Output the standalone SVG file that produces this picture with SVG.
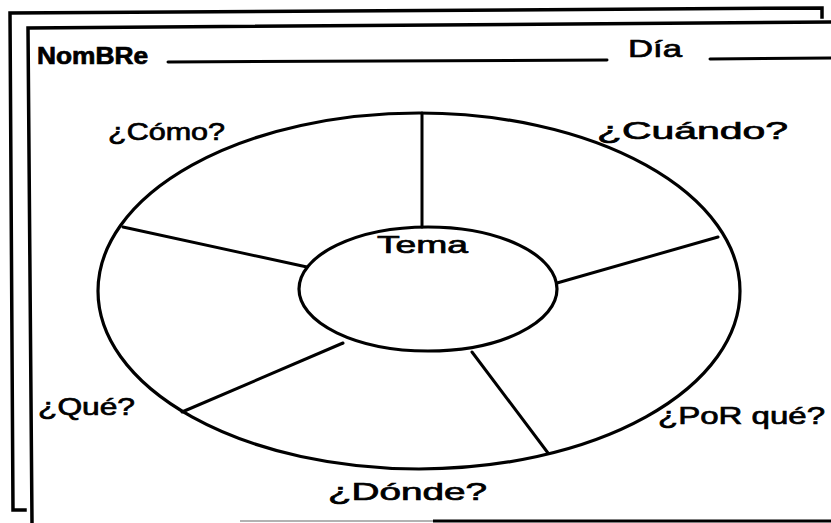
<svg xmlns="http://www.w3.org/2000/svg" width="831" height="523" viewBox="0 0 831 523">
<style>
.pg{fill:none;stroke:#000;stroke-width:3.5;stroke-linecap:square}
.ln{stroke:#000;stroke-width:3;fill:none;stroke-linecap:round}
.ov{fill:none;stroke:#000;stroke-width:3.2}
.t{font-family:"Liberation Sans",Arial,sans-serif;fill:#000;font-size:24px;stroke:#000;stroke-width:0.7}
</style>
<rect width="831" height="523" fill="#fff"/>
<g id="page">
<polyline class="pg" points="25,510 13,510 10,13 822,8 822,17"/>
<polyline class="pg" points="32,523 28,28 831,22"/>
<line x1="240" y1="521" x2="433" y2="521" stroke="#999" stroke-width="1.5"/>
<line x1="433" y1="521" x2="831" y2="521" stroke="#000" stroke-width="3"/>
</g>
<g id="header">
<text class="t" x="37" y="64" font-weight="bold" textLength="111" lengthAdjust="spacingAndGlyphs">NomBRe</text>
<line class="ln" x1="168" y1="62" x2="607" y2="60" stroke-width="2.5"/>
<text class="t" x="628" y="57" textLength="54" lengthAdjust="spacingAndGlyphs">Día</text>
<line class="ln" x1="710" y1="59" x2="831" y2="58" stroke-width="2.5"/>
</g>
<g id="outer-ring">
<ellipse class="ov" cx="419" cy="291" rx="321" ry="178"/>
</g>
<g id="connectors">
<line class="ln" x1="422" y1="113" x2="422" y2="227" stroke-width="4"/>
<line class="ln" x1="123" y1="227" x2="307" y2="267"/>
<line class="ln" x1="718" y1="237" x2="557" y2="283"/>
<line class="ln" x1="182" y1="412" x2="343" y2="343"/>
<line class="ln" x1="472" y1="352" x2="548" y2="453" stroke-width="3.5"/>
</g>
<g id="tema">
<ellipse class="ov" cx="428" cy="289" rx="129" ry="62" stroke-width="3.6"/>
<text class="t" x="377" y="253" font-size="20" textLength="91" lengthAdjust="spacingAndGlyphs">Tema</text>
</g>
<g id="como"><text class="t" x="108" y="140" font-size="26" textLength="117" lengthAdjust="spacingAndGlyphs">¿Cómo?</text></g>
<g id="cuando"><text class="t" x="597" y="139" font-size="24" textLength="191" lengthAdjust="spacingAndGlyphs">¿Cuándo?</text></g>
<g id="que"><text class="t" x="38" y="415" font-size="28" textLength="97" lengthAdjust="spacingAndGlyphs">¿Qué?</text></g>
<g id="porque"><text class="t" x="658" y="424" font-size="22" textLength="167" lengthAdjust="spacingAndGlyphs">¿PoR qué?</text></g>
<g id="donde"><text class="t" x="328" y="500" font-size="24" textLength="159" lengthAdjust="spacingAndGlyphs">¿Dónde?</text></g>
</svg>
